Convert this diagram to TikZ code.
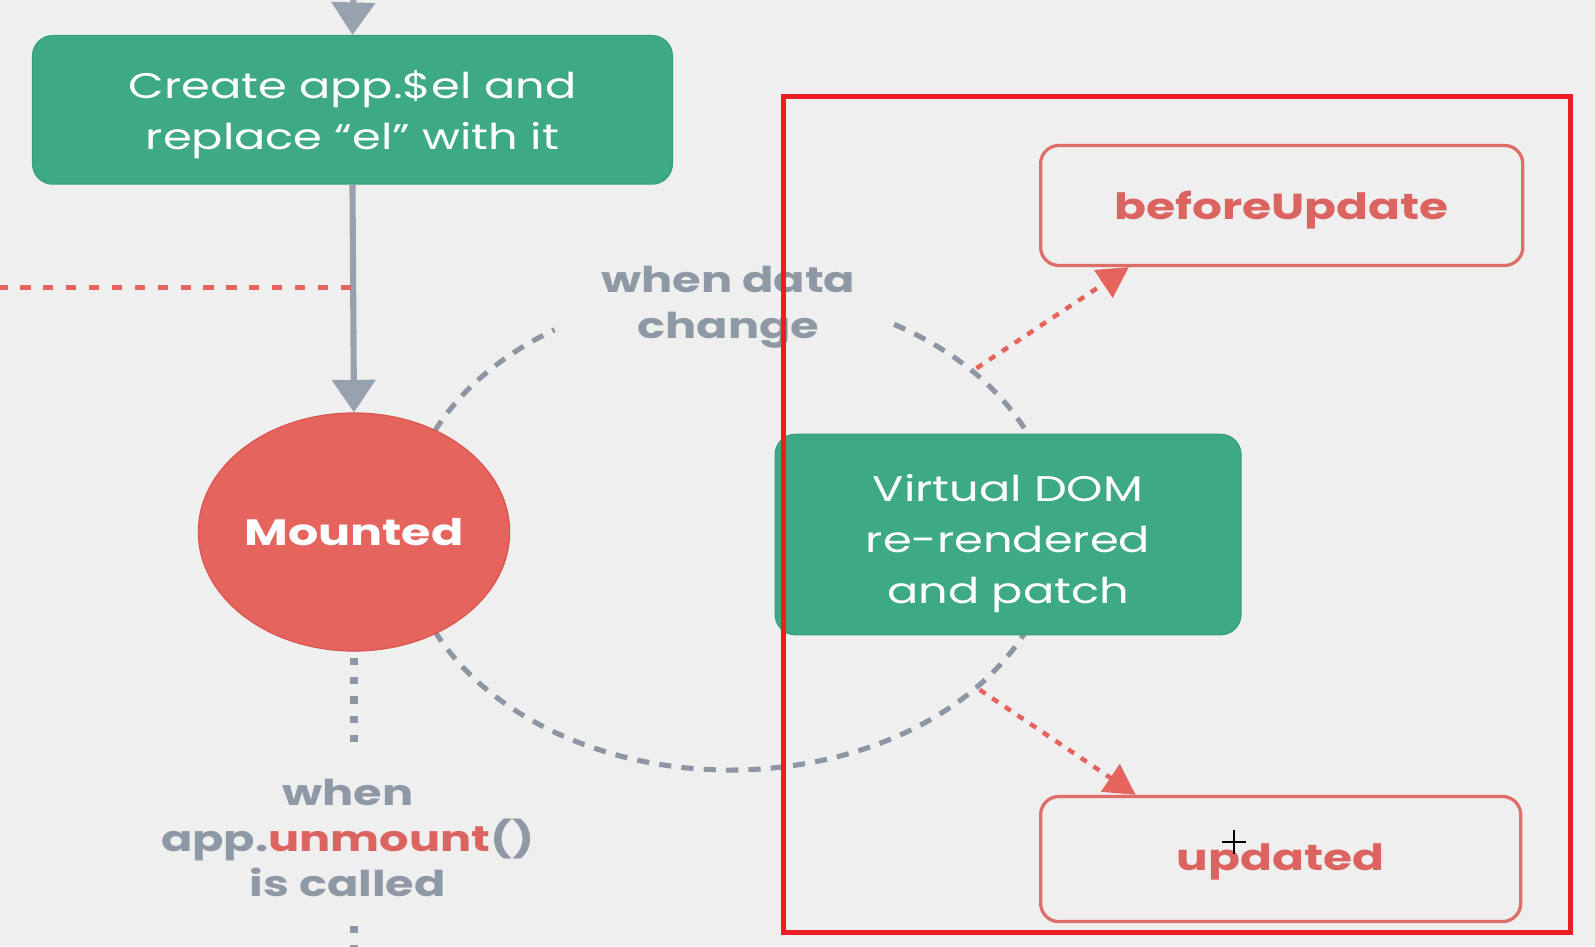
\documentclass[tikz,border=0pt]{standalone}
\usepackage{fontspec}
\setmainfont{Poppins}[FakeStretch=1.3]
\usetikzlibrary{arrows.meta,calc,shapes.geometric}
\definecolor{bgc}{HTML}{EFEFEF}
\definecolor{vgreen}{HTML}{3EAA84}
\definecolor{vgreenedge}{HTML}{35A079}
\definecolor{vred}{HTML}{E6645E}
\definecolor{vrededge}{HTML}{D95650}
\definecolor{vredline}{HTML}{DF6E69}
\definecolor{vredtext}{HTML}{DC6460}
\definecolor{garrow}{HTML}{98A2AE}
\definecolor{gtext}{HTML}{8F99A5}
\definecolor{gdash}{HTML}{8E96A3}
\definecolor{annot}{HTML}{EC1C24}
\tikzset{
  greenbox/.style={rectangle, rounded corners=10pt, fill=vgreen, draw=vgreenedge, line width=0.6pt},
  greentext/.style={text=white, align=center, font=\fontsize{17.5}{25}\selectfont},
  hookbox/.style={rectangle, rounded corners=9pt, draw=vredline, line width=1.6pt},
  hooktext/.style={text=vredtext, align=center, font=\bfseries\fontsize{17.8}{22}\selectfont},
  grayarrow/.style={draw=garrow, line width=3pt, -{Triangle[length=16pt,width=21pt]}},
  reddotline/.style={draw=vred, line width=2.5pt, dash pattern=on 5pt off 6.25pt},
  reddotarrow/.style={draw=vred, line width=2.2pt, dash pattern=on 3.5pt off 4pt,
    -{Triangle[length=15pt,width=16pt,fill=vred]}},
  graydot/.style={draw=gdash, line width=3.5pt, dash pattern=on 3.5pt off 6pt},
  graydash/.style={draw=gdash, line width=2.5pt, dash pattern=on 6pt off 5pt},
  graylabel/.style={text=gtext, align=center, font=\bfseries\fontsize{17.5}{22.5}\selectfont},
}
\begin{document}
\begin{tikzpicture}[x=0.5pt,y=-0.5pt]
\fill[bgc] (0,0) rectangle (1568,930);
\useasboundingbox (0,0) rectangle (1568,930);

% dashed update loop
\coordinate (ec) at (718,522);
\draw[graydash] (ec) ++(-59.8:320 and 235) arc[start angle=-59.8, end angle=237.3, x radius=320, y radius=235];

% nodes
\node[greenbox, minimum width=314.5pt, minimum height=73pt] (box1) at (346.5,108) {};
\node[greentext] (box1text) at ($(box1.center)+(0,4.5)$) {Create app.\$el and\\replace “el” with it};
\node[ellipse, fill=vred, draw=vrededge, line width=0.6pt, inner sep=0pt, minimum width=153pt, minimum height=117pt,
  text=white, font=\bfseries\fontsize{18}{22}\selectfont] (mounted) at (348,523) {Mounted};
\node[greenbox, minimum width=229pt, minimum height=98.5pt] (vdom) at (991,525.5) {};
\node[greentext] (vdomtext) at ($(vdom.center)+(0,9)$) {Virtual DOM\\re-rendered\\and patch};
\node[hookbox, minimum width=237pt, minimum height=59pt] (bu) at (1260,202) {};
\node[hooktext] (butext) at ($(bu.center)+(0,5)$) {beforeUpdate};
\node[hookbox, minimum width=236pt, minimum height=61.5pt] (up) at (1259,844.5) {};
\node[hooktext] (uptext) at ($(up.center)+(0,3)$) {updated};
\node[graylabel] (wdc) at (716,302) {when data\\change};
\node[graylabel] (unm) at (342,824) {when\\app.\textcolor{vredtext}{unmount}()\\is called};

% connectors
\coordinate (topin) at (348,-20);
\draw[grayarrow] (topin) -- (box1.north);
\draw[grayarrow] (box1.south) -- (mounted.north);
\coordinate (rl) at (-20,283);
\coordinate (rr) at (345,283);
\draw[reddotline] (rr) -- (rl);
\coordinate (ud1) at (348,734);
\draw[graydot] ([yshift=-3pt]mounted.south) -- (ud1);
\coordinate (ud2) at (348,910);
\coordinate (bot) at (348,945);
\draw[graydot] (ud2) -- (bot);
\coordinate (a1) at (960,362);
\draw[reddotarrow] (a1) -- ($(bu.south west)!0.185!(bu.south east)$);
\coordinate (a2) at (963,678);
\draw[reddotarrow] (a2) -- ($(up.north west)!0.2!(up.north east)$);

% cursor
\coordinate (cur) at (1213,828);
\draw[black, line width=0.8pt] ($(cur)+(-12,0)$) -- ($(cur)+(12,0)$);
\draw[black, line width=0.8pt] ($(cur)+(0,-12)$) -- ($(cur)+(0,12)$);

% annotation frame
\draw[annot, line width=2.6pt] (770,95) rectangle (1544,917);
\end{tikzpicture}
\end{document}
